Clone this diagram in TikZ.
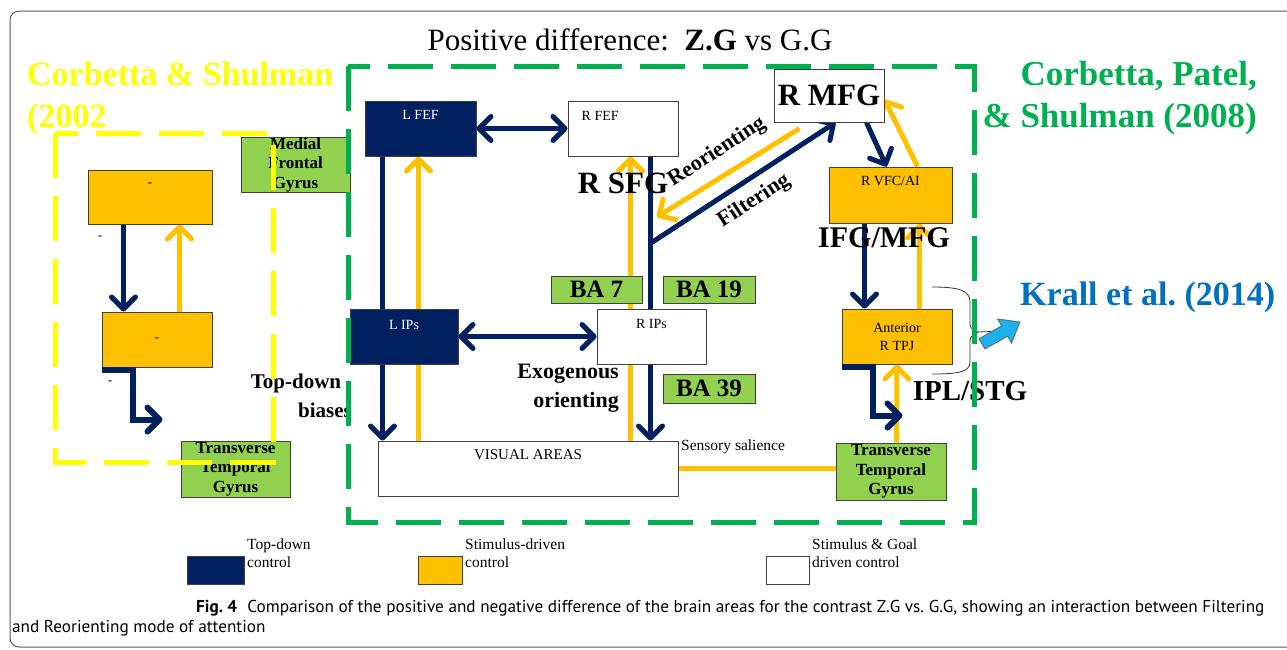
\documentclass[tikz,border=0pt]{standalone}
\usepackage{fontspec}
\setmainfont{Liberation Serif}
\newfontfamily\capfont{PT Sans}
\usetikzlibrary{arrows.meta,calc}
\definecolor{navy}{HTML}{002060}
\definecolor{amber}{HTML}{FFC000}
\definecolor{lgreen}{HTML}{92D050}
\definecolor{dgreen}{HTML}{00B050}
\definecolor{ylw}{HTML}{FFFF00}
\definecolor{kblue}{HTML}{0070C0}
\definecolor{kcyan}{HTML}{1CB0EC}
\newcommand\fsz[2]{\fontsize{#1}{#2}\selectfont}
\frenchspacing
\pgfdeclarelayer{bg}
\pgfsetlayers{bg,main}
\tikzset{
  bx/.style={draw=black!75, line width=1pt, inner sep=0pt},
  nvbox/.style={bx, fill=navy},
  orbox/.style={bx, fill=amber},
  wbox/.style={bx, fill=white},
  gbox/.style={bx, fill=lgreen, align=center, font=\bfseries\fsz{17}{19.5}},
  babox/.style={bx, fill=lgreen, font=\bfseries\fsz{25}{27}},
  tl/.style={anchor=north, inner sep=0pt, font=\fsz{14}{16}},
  tx/.style={inner sep=0pt},
  nv/.style={draw=navy, line width=5pt},
  orl/.style={draw=amber, line width=5pt},
  tip/.style={-{Straight Barb[length=12pt,width=24pt,round]}},
  tiptwo/.style={{Straight Barb[length=12pt,width=24pt,round]}-{Straight Barb[length=12pt,width=24pt,round]}},
  gdash/.style={draw=dgreen, line width=5pt, dash pattern=on 45pt off 18pt},
  ydash/.style={draw=ylw, line width=5pt, dash pattern=on 45pt off 18pt},
  thinl/.style={draw=black!80, line width=0.8pt},
}
\begin{document}
\begin{tikzpicture}[x=1pt,y=-1pt]
\useasboundingbox (0,0) rectangle (1287,649);
\draw[black!65, line width=1pt, rounded corners=9pt] (10,11) rectangle (1300,647);

% title and references
\node[tx, anchor=base, font=\fsz{31}{33}] (title) at (630,50) {Positive difference:\ \ \textbf{Z.G} vs G.G};
\node[tx, anchor=base west, text=ylw, font=\bfseries\fsz{34}{36}] (cs1) at (27,85) {Corbetta \& Shulman};
\node[tx, anchor=base west, text=ylw, font=\bfseries\fsz{34}{36}] (cs2) at (27,127) {(2002};
\node[tx, anchor=base east, text=dgreen, font=\bfseries\fsz{35}{37}] (cp1) at (1257,85) {Corbetta, Patel,};
\node[tx, anchor=base east, text=dgreen, font=\bfseries\fsz{35}{37}] (cp2) at (1257,127) {\& Shulman (2008)};
\node[tx, anchor=base west, text=kblue, font=\bfseries\fsz{34}{36}] (kr) at (1020,305) {Krall et al. (2014)};

% boxes
\node[nvbox, minimum width=111pt, minimum height=55pt, label={[tl, text=white, yshift=-10pt]north:L FEF}] (lfef) at (420.5,128.5) {};
\node[wbox, minimum width=110pt, minimum height=55pt, label={[tl, anchor=north west, xshift=14pt, yshift=-11pt]north west:R FEF}] (rfef) at (623,128.5) {};
\node[wbox, minimum width=110pt, minimum height=53pt, font=\bfseries\fsz{31}{33}] (rmfg) at (829,95.5) {R MFG};
\node[orbox, minimum width=123pt, minimum height=56pt, label={[tl, yshift=-10pt]north:R VFC/AI}] (rvfc) at (890.5,195) {};
\node[nvbox, minimum width=108pt, minimum height=55pt, label={[tl, text=white, yshift=-12pt]north:L IPs}] (lips) at (404,336.5) {};
\node[wbox, minimum width=109pt, minimum height=55pt, label={[tl, yshift=-11pt]north:R IPs}] (rips) at (651.5,336.5) {};
\node[wbox, minimum width=300pt, minimum height=55pt, label={[tl, font=\fsz{15}{17}, yshift=-9pt]north:VISUAL AREAS}] (vis) at (528,468.5) {};
\node[orbox, minimum width=110pt, minimum height=55pt, align=center, font=\fsz{14}{18}] (rtpj) at (897,336.5) {Anterior\\R TPJ};
\node[gbox, minimum width=110pt, minimum height=57pt] (ttgr) at (891,471.5) {Transverse\\Temporal\\Gyrus};
\node[gbox, minimum width=109pt, minimum height=56pt] (ttgl) at (235.5,469) {Transverse\\Temporal\\Gyrus};
\node[gbox, minimum width=109pt, minimum height=55pt] (mfg) at (295.5,164.5) {Medial\\Frontal\\Gyrus};
\node[orbox, minimum width=124pt, minimum height=54pt, label={[tl, font=\fsz{13}{15}, yshift=-13pt]north:{-}}] (ytop) at (150,197) {};
\node[orbox, minimum width=110pt, minimum height=55pt, font=\fsz{13}{15}] (ybot) at (157,339.5) {-};
\node[babox, minimum width=91pt, minimum height=27pt] (ba7) at (596.5,289.5) {BA 7};
\node[babox, minimum width=92pt, minimum height=27pt] (ba19) at (709,289.5) {BA 19};
\node[babox, minimum width=92pt, minimum height=29pt] (ba39) at (709,388.5) {BA 39};

% connectors (behind boxes)
\begin{pgfonlayer}{bg}
\draw[nv, tiptwo] (lfef.east) -- (rfef.west);
\draw[nv] ([xshift=18pt]lfef.south west) -- ([xshift=33pt]lips.north west);
\draw[nv, tip] ([xshift=33pt]lips.south west) -- ([xshift=5pt]vis.north west);
\draw[orl, tip] ([xshift=41pt]vis.north west) -- ([xshift=54pt]lfef.south west);
\draw[orl, tip] ([xshift=253pt]vis.north west) -- ([xshift=63pt]rfef.south west);
\draw[nv] ([xshift=83pt]rfef.south west) -- ([xshift=54pt]rips.north west);
\draw[nv, tip] ([xshift=54pt]rips.south west) -- ([xshift=273pt]vis.north west);
\draw[nv, tiptwo] (lips.east) -- (rips.west);
\coordinate (fj) at (651,243);
\coordinate (rj) at (657,217);
\draw[nv, tip] (fj) -- ([xshift=62pt]rmfg.south west);
\draw[orl, tip] ([xshift=26pt,yshift=-6pt]rmfg.south west) -- (rj);
\draw[nv, tip] ([xshift=93pt]rmfg.south west) -- ([xshift=58pt]rvfc.north west);
\draw[orl, tip] ([xshift=89pt]rvfc.north west) -- ([yshift=-4pt]rmfg.east);
\draw[nv, tip] ([xshift=36pt]rvfc.south west) -- ([xshift=23pt]rtpj.north west);
\draw[orl, tip] ([xshift=78pt]rtpj.north west) -- ([xshift=91pt]rvfc.south west);
\draw[orl, tip] ([xshift=61pt]ttgr.north west) -- (rtpj.south);
\draw[orl] (vis.east) -- (vis.east -| ttgr.west);
\draw[nv, tip] ([xshift=36pt]ytop.south west) -- ([xshift=22pt]ybot.north west);
\draw[orl, tip] ([xshift=78pt]ybot.north west) -- ([xshift=92pt]ytop.south west);
\end{pgfonlayer}

% elbow arrows
\draw[nv, line width=6pt, tip] ([yshift=-2pt]rtpj.south west) -- ++(31,0) -- ++(0,49) -- ++(30,0);
\draw[nv, line width=6pt, tip] ([yshift=-2pt]ybot.south west) -- ++(31,0) -- ++(0,50) -- ++(30,0);

% labels
\node[tx, font=\bfseries\fsz{31}{33}] (rsfg) at (623,183) {R SFG};
\node[tx, font=\bfseries\fsz{22}{24}, rotate=33] (reor) at (717,152) {Reorienting};
\node[tx, font=\bfseries\fsz{22}{24}, rotate=33] (filt) at (754,201) {Filtering};
\node[tx, anchor=base, font=\bfseries\fsz{30}{32}] (ifg) at (884,247) {IFG/MFG};
\node[tx, anchor=base, font=\bfseries\fsz{29}{31}] (ipl) at (970,400) {IPL/STG};
\node[tx, anchor=base, font=\bfseries\fsz{21}{23}] (td1) at (296,388) {Top-down};
\node[tx, anchor=base, font=\bfseries\fsz{21}{23}] (td2) at (325,417) {biases};
\node[tx, anchor=base east, font=\bfseries\fsz{22}{24}] (ex1) at (619,378) {Exogenous};
\node[tx, anchor=base east, font=\bfseries\fsz{22}{24}] (ex2) at (619,407) {orienting};
\node[tx, anchor=base west, font=\fsz{15.5}{17}] (ss) at (681,450) {Sensory salience};
\node[tx, font=\fsz{13}{15}] (m1) at (100,238) {-};
\node[tx, font=\fsz{13}{15}] (m2) at (110,383) {-};

% Krall bracket and arrow
\coordinate (kb1) at (932,287);
\coordinate (kb2) at (932,374);
\coordinate (kbt) at (978,332);
\coordinate (kat) at (1004,331);
\draw[thinl] (kb1) .. controls (958,287) and (970,290) .. (970,302) -- (970,322) .. controls (970,328) .. (kbt) .. controls (970,337) .. (970,343) -- (970,362) .. controls (970,372) and (958,374) .. (kb2);
\draw[thinl] (kbt) -- (kat);
\draw[fill=kcyan, draw=black!60, line width=0.8pt] (985,349) -- (1007.5,336.2) -- (1011.5,343.1) -- (1020,322) -- (997.5,318.9) -- (1001.5,325.8) -- (979,338.8) -- cycle;

% dashed frames on top
\draw[gdash] (348,66) rectangle (974,522);
\draw[ydash] (55,133) rectangle (273,462);

% legend
\node[nvbox, minimum width=57pt, minimum height=28pt] (lg1) at (215.5,570) {};
\node[tx, anchor=north west, align=left, font=\fsz{15.5}{18}] (lg1t) at (247,539) {Top-down\\control};
\node[orbox, minimum width=44pt, minimum height=28pt] (lg2) at (440,570) {};
\node[tx, anchor=north west, align=left, font=\fsz{15.5}{18}] (lg2t) at (465,539) {Stimulus-driven\\control};
\node[wbox, minimum width=43pt, minimum height=28pt] (lg3) at (787.5,570) {};
\node[tx, anchor=north west, align=left, font=\fsz{15.5}{18}] (lg3t) at (812,539) {Stimulus \& Goal\\driven control};

% caption
\node[tx, anchor=base west, font=\capfont\fsz{17.2}{21}] (cap1) at (196,612) {\textbf{Fig.~4}\hspace{0.6em}Comparison of the positive and negative difference of the brain areas for the contrast Z.G vs. G.G, showing an interaction between Filtering};
\node[tx, anchor=base west, font=\capfont\fsz{17.2}{21}] (cap2) at (12,632) {and Reorienting mode of attention};
\end{tikzpicture}
\end{document}
